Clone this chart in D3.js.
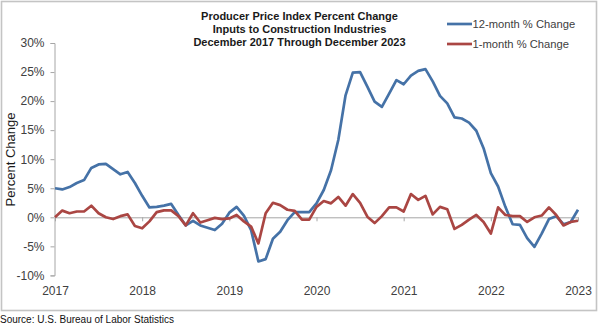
<!DOCTYPE html>
<html>
<head>
<meta charset="utf-8">
<script src="https://cdn.jsdelivr.net/npm/d3@7"></script>
<style>
  html, body { margin: 0; padding: 0; background: #fff; }
  svg { display: block; font-family: "Liberation Sans", Arial, sans-serif; }
</style>
</head>
<body>
<svg id="chart" width="600" height="328"></svg>
<script>
// Monthly index, December 2017 through December 2023 (73 months)
const yearLabels = ["2017", "2018", "2019", "2020", "2021", "2022", "2023"];
const yTicks = [-10, -5, 0, 5, 10, 15, 20, 25, 30];

// 12-month % change
const twelveMonth = [
  5.0, 4.8, 5.2, 5.9, 6.4, 8.5, 9.1, 9.2, 8.3, 7.4, 7.8, 5.9,
  3.7, 1.7, 1.8, 2.0, 2.3, 0.4, -1.4, -0.6, -1.4, -1.8, -2.2, -1.1,
  0.8, 1.8, 0.3, -2.2, -7.6, -7.2, -3.7, -2.5, -0.5, 0.9, 0.9, 0.9,
  2.4, 4.7, 8.1, 13.3, 21.0, 24.9, 25.0, 22.5, 19.9, 19.0, 21.3, 23.6,
  22.9, 24.4, 25.2, 25.5, 23.4, 20.9, 19.6, 17.2, 17.0, 16.3, 14.9, 11.9,
  7.6, 5.3, 1.8, -1.2, -1.3, -3.6, -5.1, -2.8, -0.3, 0.2, -1.2, -0.8,
  1.3
];

// 1-month % change
const oneMonth = [
  0.0, 1.15, 0.7, 1.0, 1.0, 2.0, 0.7, 0.0, -0.3, 0.2, 0.5, -1.5,
  -1.9, -0.7, 0.9, 1.2, 1.2, 0.2, -1.4, 0.7, -0.9, -0.5, -0.1, -0.3,
  -0.2, 0.4, -0.7, -1.6, -4.5, 0.7, 2.5, 2.1, 1.3, 1.1, -0.4, -0.4,
  1.8, 2.8, 2.4, 3.5, 2.0, 4.0, 2.5, 0.1, -1.0, 0.2, 1.7, 1.7,
  1.0, 4.0, 3.0, 3.7, 0.5, 1.8, 1.4, -2.0, -1.3, -0.4, 0.4, -0.8,
  -2.8, 1.7, 0.4, 0.2, 0.2, -0.8, 0.0, 0.3, 1.7, 0.4, -1.4, -0.8,
  -0.6
];

const seriesNames = ["12-month % Change", "1-month % Change"];
const seriesColors = ["#4572A7", "#AA4643"];
const titleLines = [
  "Producer Price Index Percent Change",
  "Inputs to Construction Industries",
  "December 2017 Through December 2023"
];

const svg = d3.select("#chart");
const textColor = "#404040";
const axisColor = "#a6a6a6";

// outer chart frame
svg.append("rect")
  .attr("x", 1.5).attr("y", 1.5)
  .attr("width", 595).attr("height", 309)
  .attr("fill", "#fff")
  .attr("stroke", "#c4c4c4")
  .attr("stroke-width", 1.6);

const x = d3.scaleLinear().domain([0, twelveMonth.length - 1]).range([55, 578]);
const y = d3.scaleLinear().domain([-10, 30]).range([275.4, 43]);

// y axis
const yAxis = d3.axisLeft(y)
  .tickValues(yTicks)
  .tickFormat(d => d + "%")
  .tickSize(4)
  .tickPadding(6);
const gy = svg.append("g").attr("transform", "translate(54.5,0)").call(yAxis);
gy.select(".domain").attr("stroke", axisColor);
gy.selectAll(".tick line").attr("stroke", axisColor);
gy.selectAll(".tick text")
  .attr("fill", textColor)
  .style("font-size", "12px");

// x axis on the zero line
const xAxis = d3.axisBottom(x)
  .tickValues(yearLabels.map((_, i) => i * 12))
  .tickFormat((d, i) => yearLabels[i])
  .tickSize(4)
  .tickSizeOuter(0);
const gx = svg.append("g").attr("transform", `translate(0,${y(0)})`).call(xAxis);
gx.select(".domain").attr("stroke", axisColor);
gx.selectAll(".tick line").attr("stroke", axisColor);
gx.selectAll(".tick text")
  .attr("fill", textColor)
  .attr("y", 0)
  .attr("dy", 0)
  .attr("transform", `translate(0,${295 - y(0)})`)
  .style("font-size", "12px");

// y axis title
svg.append("text")
  .attr("transform", "translate(14.5,159.5) rotate(-90)")
  .attr("text-anchor", "middle")
  .attr("fill", "#1a1a1a")
  .style("font-size", "13px")
  .text("Percent Change");

// lines
const line = d3.line().x((d, i) => x(i)).y(d => y(d));
[twelveMonth, oneMonth].forEach((data, k) => {
  svg.append("path")
    .datum(data)
    .attr("fill", "none")
    .attr("stroke", seriesColors[k])
    .attr("stroke-width", 2.7)
    .attr("stroke-linejoin", "round")
    .attr("d", line);
});

// title
const title = svg.append("text")
  .attr("text-anchor", "middle")
  .attr("fill", "#1a1a1a")
  .style("font-size", "11px")
  .style("font-weight", "bold");
titleLines.forEach((t, i) => {
  title.append("tspan").attr("x", 299.5).attr("y", 20 + i * 13).text(t);
});

// legend
const legend = svg.append("g");
seriesNames.forEach((name, i) => {
  const ly = 24 + i * 20;
  legend.append("line")
    .attr("x1", 447).attr("x2", 472)
    .attr("y1", ly).attr("y2", ly)
    .attr("stroke", seriesColors[i])
    .attr("stroke-width", 2.7);
  legend.append("text")
    .attr("x", 472.5).attr("y", ly + 4)
    .attr("fill", textColor)
    .style("font-size", "11.2px")
    .text(name);
});

// source note
svg.append("text")
  .attr("x", 0).attr("y", 323)
  .attr("fill", "#111")
  .style("font-size", "10px")
  .text("Source: U.S. Bureau of Labor Statistics");
</script>
</body>
</html>
